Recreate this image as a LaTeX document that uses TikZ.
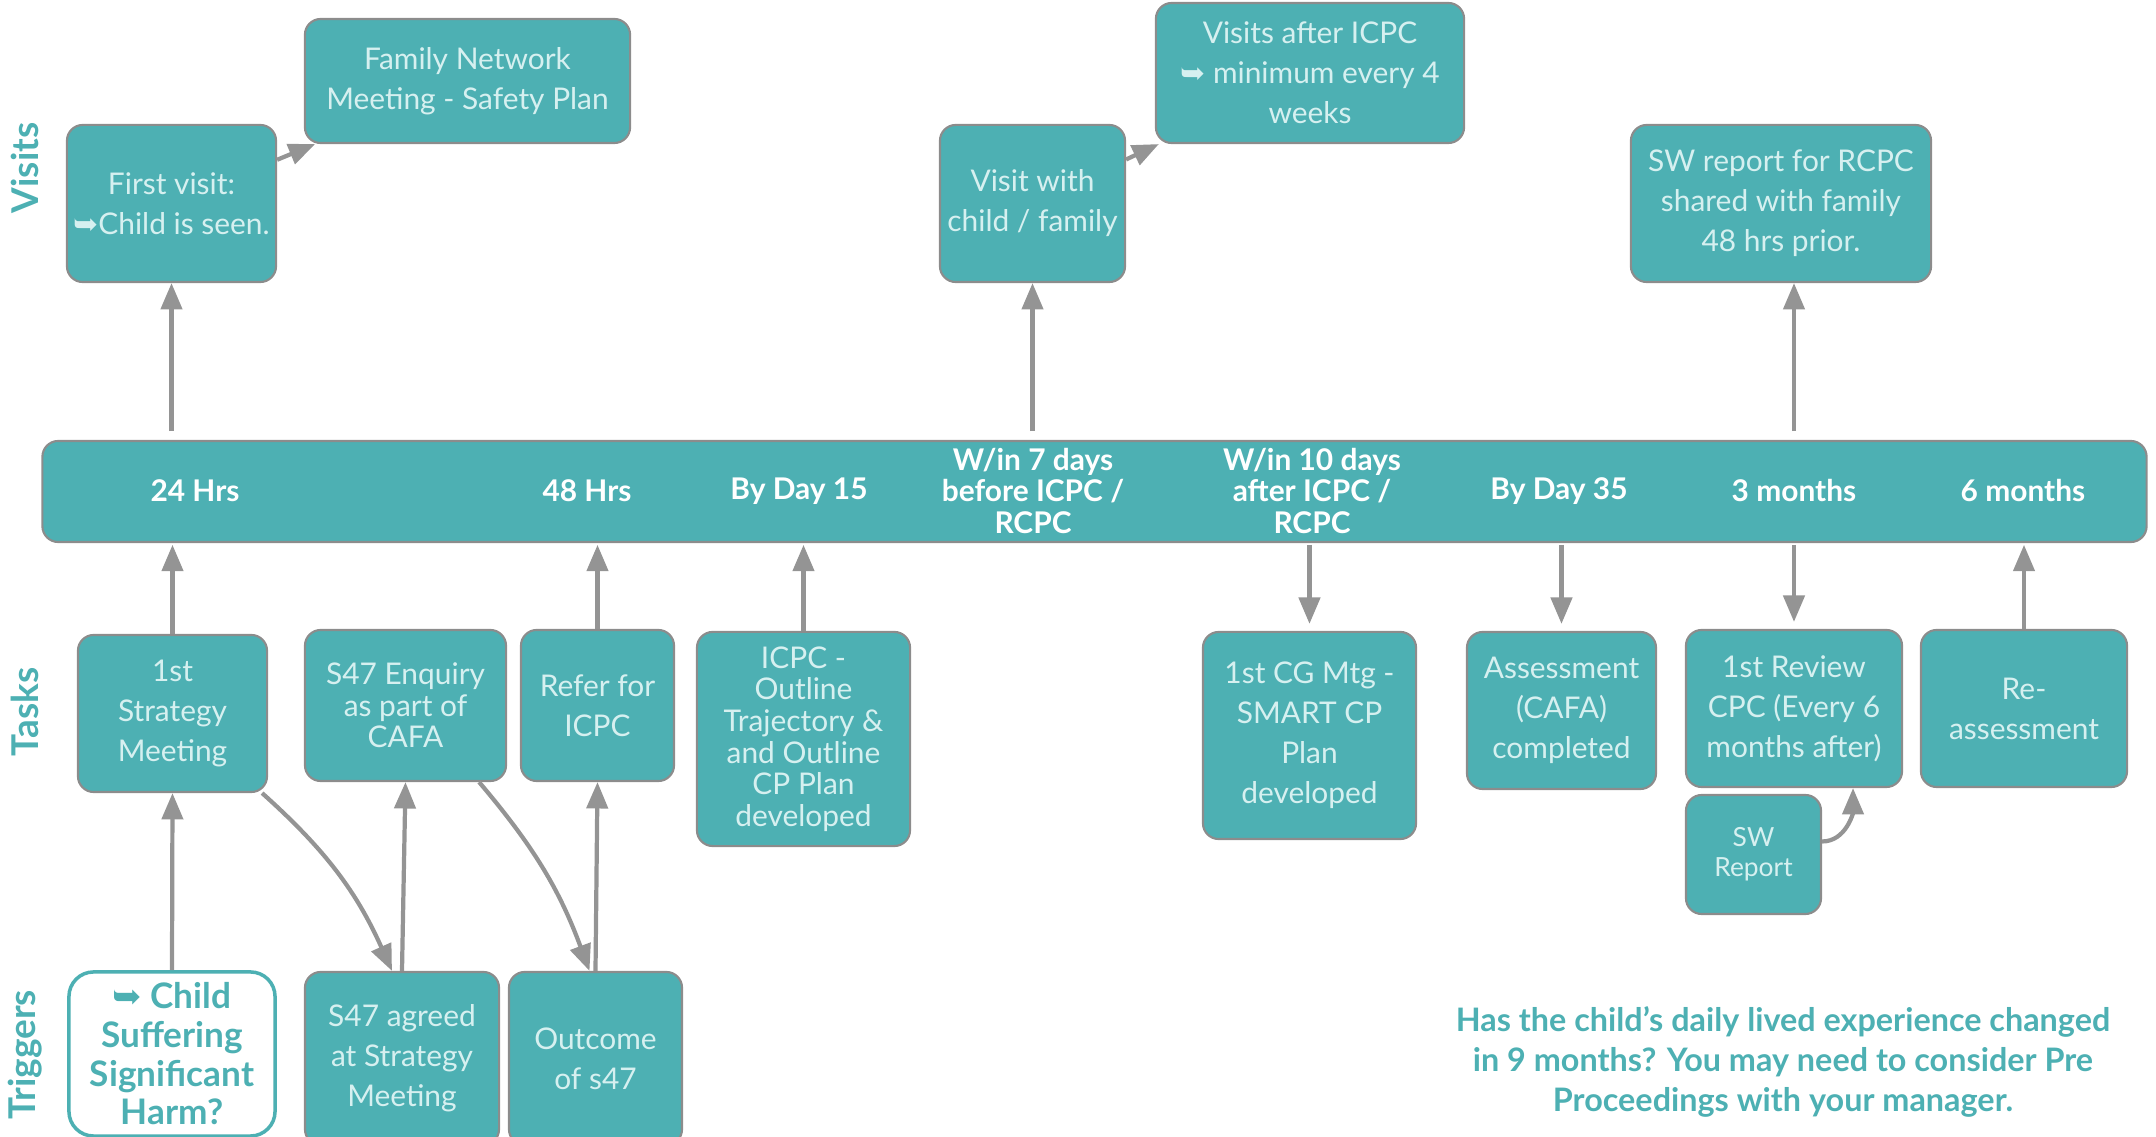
\documentclass[tikz,border=0pt]{standalone}
\usepackage{fontspec}
\setmainfont{Lato}
\newfontfamily\arrowfont{DejaVu Sans}
\usetikzlibrary{arrows.meta}
\definecolor{cpteal}{RGB}{77,176,179}
\definecolor{boxtext}{RGB}{214,240,240}
\definecolor{boxline}{RGB}{140,140,140}
\definecolor{arrowgrey}{RGB}{148,148,148}
\tikzset{stage/.style={draw=boxline, line width=0.6pt, fill=cpteal, rounded corners=4.5pt, text=boxtext, align=center, inner sep=1pt, font=\fontsize{8.5}{11.4}\selectfont}}
\tikzset{tight/.style={font=\fontsize{8.5}{9}\selectfont}}
\tikzset{when/.style={text=white, align=center, font=\bfseries\fontsize{8.5}{9}\selectfont}}
\tikzset{lane/.style={text=cpteal, rotate=90, font=\bfseries\fontsize{10.5}{12}\selectfont}}
\tikzset{link/.style={draw=arrowgrey, line width=1.2pt, -{Triangle[length=7.5pt,width=6pt]}}}
\newcommand{\hookarrow}{{\arrowfont ➥}}

\begin{document}
\begin{tikzpicture}[x=0.01cm, y=-0.01cm]
	\useasboundingbox (0,0) rectangle (2156,1137);
	\clip (0,0) rectangle (2156,1137);

	% Lanes
	\node[lane] (lvisits) at (25,168) {Visits};
	\node[lane] (ltasks) at (25,712) {Tasks};
	\node[lane] (ltriggers) at (25,1055) {Triggers};

	% Visits
	\node[stage, minimum width=2.09cm, minimum height=1.57cm] (fv) at (171.5,203.5) {First visit:\\\hookarrow Child is seen.};
	\node[stage, minimum width=3.25cm, minimum height=1.24cm] (fnm) at (467.5,81) {Family Network\\Meeting - Safety Plan};
	\node[stage, minimum width=1.85cm, minimum height=1.57cm] (vcf) at (1032.5,203.5) {Visit with\\child / family};
	\node[stage, minimum width=3.08cm, minimum height=1.40cm] (vai) at (1310,73) {Visits after ICPC\\\hookarrow{} minimum every 4\\weeks};
	\node[stage, minimum width=3.00cm, minimum height=1.57cm] (swr) at (1781,203.5) {SW report for RCPC\\shared with family\\48 hrs prior.};

	% Timeline
	\node[stage, minimum width=21.03cm, minimum height=1.01cm] (bar) at (1094.5,491.5) {};
	\node[when] (t24) at (195,491) {24 Hrs};
	\node[when] (t48) at (587,491) {48 Hrs};
	\node[when] (t15) at (799,491) {By Day 15};
	\node[when] (t7) at (1033,491) {W/in 7 days\\before ICPC /\\RCPC};
	\node[when] (t10) at (1312,491) {W/in 10 days\\after ICPC /\\RCPC};
	\node[when] (t35) at (1559,491) {By Day 35};
	\node[when] (t3m) at (1794,491) {3 months};
	\node[when] (t6m) at (2023,491) {6 months};

	% Tasks
	\node[stage, minimum width=1.89cm, minimum height=1.57cm] (strat) at (172.5,713.5) {1st\\Strategy\\Meeting};
	\node[stage, tight, minimum width=2.01cm, minimum height=1.51cm] (enq) at (405.5,705.5) {S47 Enquiry\\as part of\\CAFA};
	\node[stage, minimum width=1.53cm, minimum height=1.51cm] (refer) at (597.5,705.5) {Refer for\\ICPC};
	\node[stage, tight, minimum width=2.13cm, minimum height=2.14cm] (icpc) at (803.5,739) {ICPC -\\Outline\\Trajectory \&\\and Outline\\CP Plan\\developed};
	\node[stage, minimum width=2.13cm, minimum height=2.07cm] (cg) at (1309.5,735.5) {1st CG Mtg -\\SMART CP\\Plan\\developed};
	\node[stage, minimum width=1.89cm, minimum height=1.57cm] (assess) at (1561.5,710.5) {Assessment\\(CAFA)\\completed};
	\node[stage, minimum width=2.16cm, minimum height=1.57cm] (review) at (1794,708.5) {1st Review\\CPC (Every 6\\months after)};
	\node[stage, minimum width=1.35cm, minimum height=1.19cm, font=\fontsize{7.5}{8.6}\selectfont] (swrep) at (1753.5,854.5) {SW\\Report};
	\node[stage, minimum width=2.06cm, minimum height=1.57cm] (reass) at (2024,708.5) {Re-\\assessment};

	% Triggers
	\node[stage, fill=white, draw=cpteal, line width=1pt, rounded corners=7pt, text=cpteal, font=\bfseries\fontsize{10}{11}\selectfont, minimum width=2.06cm, minimum height=1.64cm] (harm) at (172,1054) {\hookarrow{} Child\\Suffering\\Significant\\Harm?};
	\node[stage, minimum width=1.94cm, minimum height=1.73cm] (agreed) at (402,1058.5) {S47 agreed\\at Strategy\\Meeting};
	\node[stage, minimum width=1.73cm, minimum height=1.73cm] (outcome) at (595.5,1058.5) {Outcome\\of s47};

	% Note
	\node[text=cpteal, align=center, font=\bfseries\fontsize{9.2}{11.4}\selectfont] (note) at (1783,1062) {Has the child’s daily lived experience changed\\in 9 months? You may need to consider Pre\\Proceedings with your manager.};

	% Up to visits
	\draw[link] (fv) -- (fnm);
	\draw[link] (vcf) -- (vai);
	\draw[link, shorten <=2.5pt] (fv.south |- bar.north) -- (fv.south);
	\draw[link, shorten <=2.5pt] (vcf.south |- bar.north) -- (vcf.south);
	\draw[link, shorten <=2.5pt] (t3m |- bar.north) -- (t3m |- swr.south);

	% Tasks and the timeline
	\draw[link, shorten >=0.5pt] (strat.north) -- (strat.north |- bar.south);
	\draw[link, shorten >=0.5pt] (refer.north) -- (refer.north |- bar.south);
	\draw[link, shorten >=0.5pt] (icpc.north) -- (icpc.north |- bar.south);
	\draw[link, shorten >=0.5pt] (reass.north) -- (reass.north |- bar.south);
	\draw[link, shorten <=0.5pt, shorten >=2pt] (cg.north |- bar.south) -- (cg.north);
	\draw[link, shorten <=0.5pt, shorten >=2pt] (assess.north |- bar.south) -- (assess.north);
	\draw[link, shorten <=0.5pt, shorten >=2pt] (review.north |- bar.south) -- (review.north);

	% Triggers to tasks
	\draw[link] (harm.north) -- (strat.south);
	\draw[link] (agreed.north) -- (enq.south);
	\draw[link] (outcome.north) -- (refer.south);
	\draw[link] ([xshift=-0.06cm]strat.south east) to[bend left=12] ([xshift=-0.1cm]agreed.north);
	\draw[link] ([xshift=-0.28cm]enq.south east) to[bend left=10] ([xshift=-0.06cm]outcome.north);
	\draw[link] ([yshift=0.13cm]swrep.east) to[out=0, in=-90] ([xshift=0.59cm]review.south);
\end{tikzpicture}
\end{document}
